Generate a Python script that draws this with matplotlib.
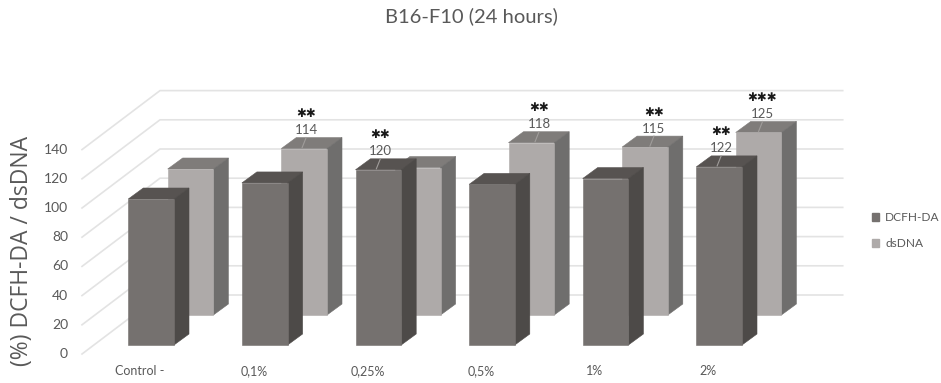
"""B16-F10 grouped pseudo-3D bar chart."""

from __future__ import annotations

import matplotlib

matplotlib.use("Agg")
import matplotlib.pyplot as plt
from matplotlib.patches import Patch, Polygon


CATEGORIES = ["Control -", "0,1%", "0,25%", "0,5%", "1%", "2%"]
DCFH_DA = [100, 111, 120, 110, 114, 122]
DSDNA = [100, 114, 101, 118, 115, 125]
DCFH_LABELS = [None, None, 120, None, None, 122]
DSDNA_LABELS = [None, 114, None, 118, 115, 125]
DCFH_STARS = ["", "", "✱✱", "", "", "✱✱"]
DSDNA_STARS = ["", "✱✱", "", "✱✱", "✱✱", "✱✱✱"]
Y_TICKS = [0, 20, 40, 60, 80, 100, 120, 140]

WIDTH_PX, HEIGHT_PX = 941, 383
PX_X = 113.6  # pixels per category
PX_Y = 1.46  # pixels per percent
X0_PX = 151.15  # centre of the first front bar
Y0_PX = 345.0  # front row baseline

BAR_W = 45.7 / PX_X
DEPTH_X = 15.0 / PX_X
DEPTH_Y = 11.0 / PX_Y
BACK_X = 39.4 / PX_X
BACK_Y = 30.0 / PX_Y
WALL_X = 160.0
FRONT_COLORS = ("#75716f", "#4d4a48", "#575351")
BACK_COLORS = ("#aeaaa9", "#6f6e6d", "#7f7c7a")
TEXT_COLOR = "#595959"
GRID_COLOR = "#e3e3e3"


def px_x(px: float) -> float:
    return (px - X0_PX) / PX_X


def px_y(px: float) -> float:
    return (Y0_PX - px) / PX_Y


def draw_box(ax, x, value, base, colors, zorder):
    left, right = x - BAR_W / 2, x + BAR_W / 2
    top = base + value
    face, side, cap = colors
    ax.add_patch(
        Polygon(
            [
                (left, top),
                (left + DEPTH_X, top + DEPTH_Y),
                (right + DEPTH_X, top + DEPTH_Y),
                (right, top),
            ],
            closed=True,
            facecolor=cap,
            edgecolor=cap,
            linewidth=0.4,
            zorder=zorder,
        )
    )
    ax.add_patch(
        Polygon(
            [
                (right, base),
                (right + DEPTH_X, base + DEPTH_Y),
                (right + DEPTH_X, top + DEPTH_Y),
                (right, top),
            ],
            closed=True,
            facecolor=side,
            edgecolor=side,
            linewidth=0.4,
            zorder=zorder,
        )
    )
    ax.bar(x, value, BAR_W, bottom=base, color=face, edgecolor=face, linewidth=0.4, zorder=zorder)


def annotate_bar(ax, x, top, label, stars, x_shift, zorder):
    if label is None:
        return
    label_y = top + 18.5 / PX_Y
    ax.plot(
        [x + x_shift, x + x_shift - 4 / PX_X],
        [top + DEPTH_Y, top + 1 / PX_Y],
        color="#a09d9b",
        linewidth=0.8,
        zorder=zorder,
    )
    ax.text(x + x_shift, label_y, str(label), ha="center", va="center", fontsize=9.5, color=TEXT_COLOR, zorder=zorder)
    ax.text(
        x + x_shift,
        label_y + 16.5 / PX_Y,
        stars,
        ha="center",
        va="center",
        fontsize=8.5,
        color="#1a1a1a",
        family="DejaVu Sans",
        zorder=zorder,
    )


plt.rcParams["font.family"] = ["Lato", "DejaVu Sans"]
fig = plt.figure(figsize=(WIDTH_PX / 100, HEIGHT_PX / 100), dpi=100)
ax = fig.add_axes([0, 0, 1, 1])
ax.set_xlim(px_x(0), px_x(WIDTH_PX))
ax.set_ylim(px_y(HEIGHT_PX), px_y(0))
ax.axis("off")

# wall and floor grid
wall_base = px_y(295.0)
for tick in Y_TICKS:
    wall_y = wall_base + tick
    ax.plot([px_x(82), px_x(WALL_X), px_x(842.7)], [wall_y - 59 / PX_Y, wall_y, wall_y], color=GRID_COLOR, linewidth=1.2, zorder=1)
    ax.text(px_x(68), wall_y - 59 / PX_Y, str(tick), ha="right", va="center", fontsize=10, color=TEXT_COLOR)

back_shifts = [0, 2.0, 0, 7.7, 9.0, 4.0]
for i, value in enumerate(DSDNA):
    draw_box(ax, i + BACK_X, value, BACK_Y, BACK_COLORS, 2)
    annotate_bar(ax, i + BACK_X, BACK_Y + value, DSDNA_LABELS[i], DSDNA_STARS[i], back_shifts[i] / PX_X, 4)
for i, value in enumerate(DCFH_DA):
    draw_box(ax, i, value, 0, FRONT_COLORS, 3)
    annotate_bar(ax, i, value, DCFH_LABELS[i], DCFH_STARS[i], 2 / PX_X, 4)
    ax.text(i - 11 / PX_X, px_y(375), CATEGORIES[i], ha="center", va="baseline", fontsize=9, color=TEXT_COLOR)

ax.text(px_x(471), px_y(16), "B16-F10 (24 hours)", ha="center", va="center", fontsize=14.5, color=TEXT_COLOR)
ax.text(
    px_x(22),
    px_y(251),
    "(%) DCFH-DA / dsDNA",
    rotation=90,
    ha="center",
    va="center",
    fontsize=16.5,
    color=TEXT_COLOR,
    family="Open Sans",
)

handles = [Patch(color=FRONT_COLORS[0], label="DCFH-DA"), Patch(color=BACK_COLORS[0], label="dsDNA")]
ax.legend(
    handles=handles,
    loc="center left",
    bbox_to_anchor=(872 / WIDTH_PX, 1 - 230.5 / HEIGHT_PX),
    frameon=False,
    fontsize=8.6,
    labelcolor=TEXT_COLOR,
    handlelength=0.6,
    handleheight=0.6,
    handletextpad=0.5,
    labelspacing=1.25,
    borderpad=0,
    borderaxespad=0,
)

fig.savefig("out.png", dpi=100)
plt.close(fig)
